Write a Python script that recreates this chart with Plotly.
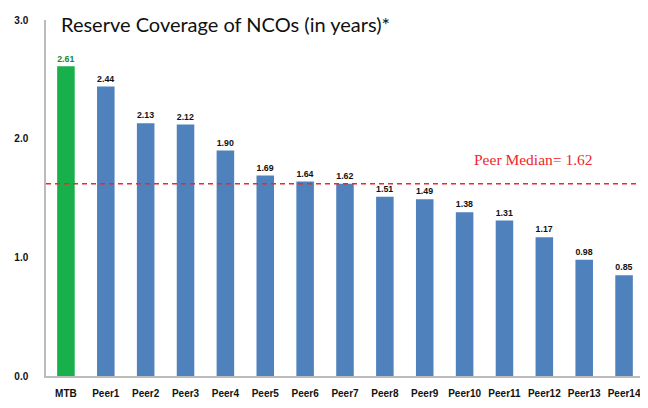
import plotly.graph_objects as go

categories = ["MTB", "Peer1", "Peer2", "Peer3", "Peer4", "Peer5", "Peer6", "Peer7",
              "Peer8", "Peer9", "Peer10", "Peer11", "Peer12", "Peer13", "Peer14"]
values = [2.61, 2.44, 2.13, 2.12, 1.90, 1.69, 1.64, 1.62, 1.51, 1.49, 1.38, 1.31, 1.17, 0.98, 0.85]
peer_median = 1.62
y_ticks = [0.0, 1.0, 2.0, 3.0]

GREEN = "#17B04B"
BLUE = "#4F81BD"
RED = "#F0262A"
colors = [GREEN] + [BLUE] * (len(categories) - 1)
label_colors = ["#138A3A"] + ["#111111"] * (len(categories) - 1)
NARROW = "Liberation Sans Narrow, Arial Narrow, Liberation Sans"

fig = go.Figure()
fig.add_trace(go.Bar(
    x=categories, y=values, marker=dict(color=colors, line=dict(width=0)),
    text=[f"<b>{v:.2f}</b>" for v in values], textposition="outside",
    textfont=dict(family=NARROW, size=10, color=label_colors),
    cliponaxis=False, hoverinfo="skip",
))
fig.add_shape(type="line", xref="paper", x0=0, x1=1, yref="y", y0=peer_median, y1=peer_median,
              line=dict(color=RED, width=1.5, dash="5px,4px"))
fig.add_annotation(xref="paper", x=0.815, xanchor="center", yref="y", y=peer_median, yshift=24,
                   text=f"Peer Median= {peer_median:.2f}", showarrow=False,
                   font=dict(family="Liberation Serif, Times New Roman, serif", size=15.5, color=RED))
fig.add_annotation(xref="paper", x=0.022, yref="paper", y=1.0, yshift=-4, xanchor="left", yanchor="middle",
                   text="Reserve Coverage of NCOs (in years)*", showarrow=False,
                   font=dict(family="Lato, Open Sans, sans-serif", size=20, color="#111111"))

fig.update_layout(
    width=640, height=400, paper_bgcolor="white", plot_bgcolor="white",
    margin=dict(l=38, r=4, t=12, b=32), showlegend=False, bargap=0.56,
    font=dict(family=NARROW, color="#111111"),
)
fig.update_xaxes(showline=True, linecolor="#BBBBBB", linewidth=1.5, ticks="", showgrid=False,
                 tickvals=categories, ticktext=[f"<b>{c}</b>" for c in categories],
                 tickfont=dict(size=10, family=NARROW), tickangle=0, ticklabelstandoff=7)
fig.update_yaxes(range=[0, 3.0], tickvals=y_ticks, ticktext=[f"<b>{t:.1f}</b>" for t in y_ticks],
                 showgrid=False, showline=True, linecolor="#BBBBBB", linewidth=1.5, zeroline=False,
                 ticks="", tickfont=dict(size=10, family=NARROW), ticklabelstandoff=14)

fig.write_html("out.html")
